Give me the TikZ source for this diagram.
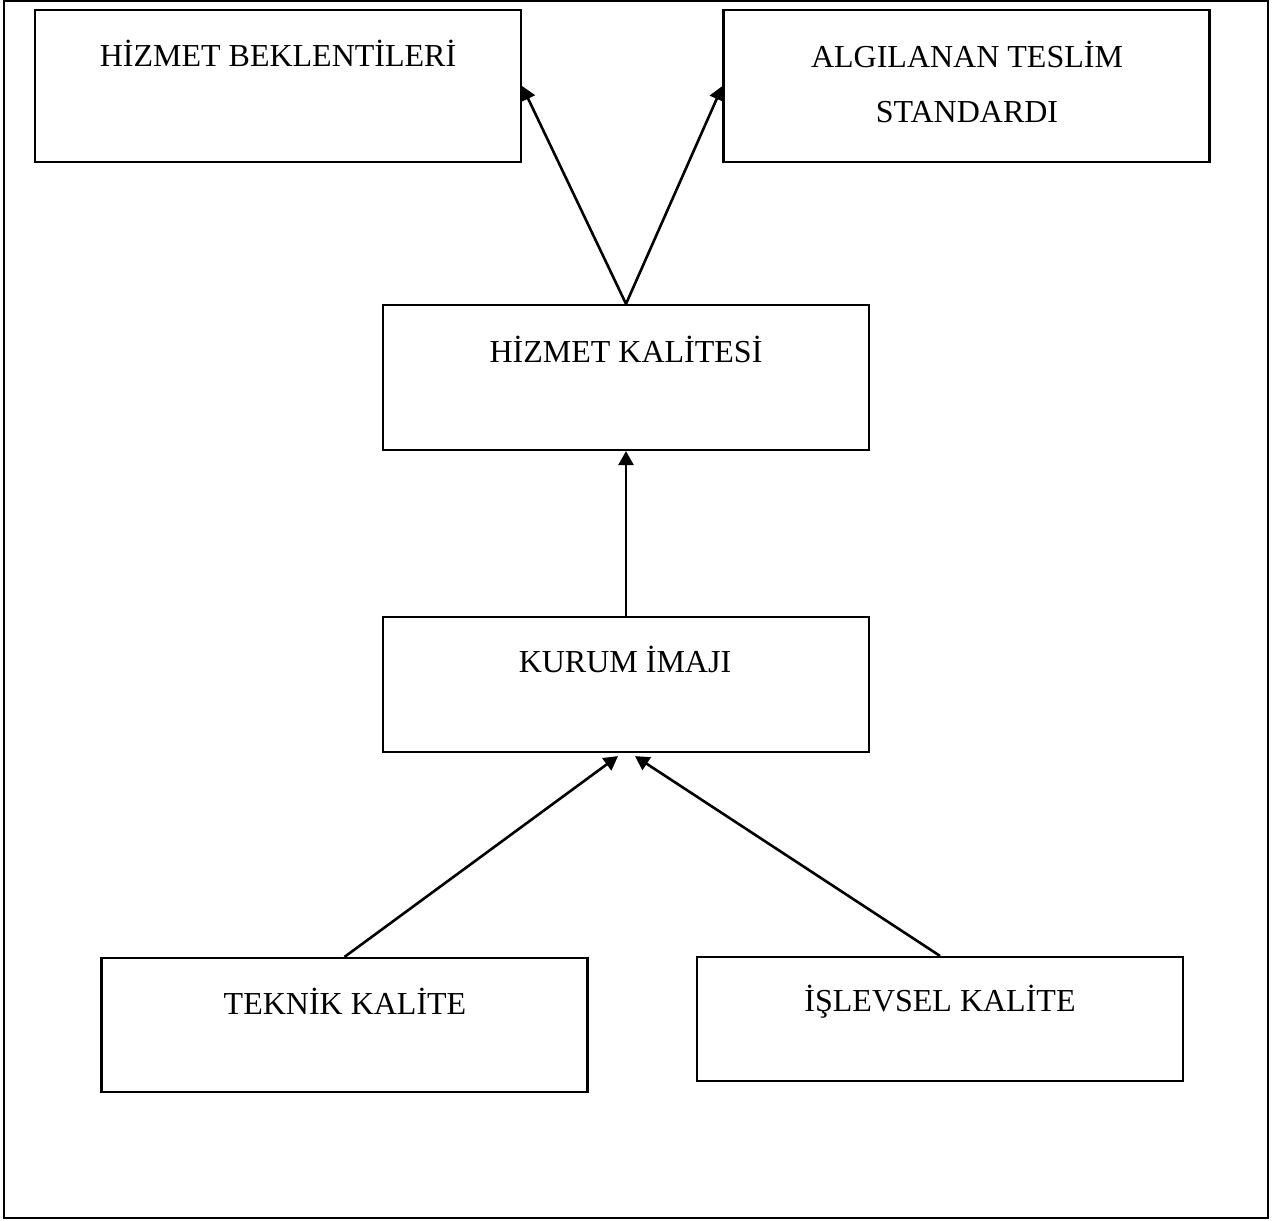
\documentclass[tikz,border=0pt]{standalone}
\usepackage{fontspec}
\setmainfont{Liberation Serif}
\usetikzlibrary{arrows.meta,calc}

\begin{document}
\begin{tikzpicture}[x=0.5pt,y=-0.5pt,
  box/.style={draw=black,line width=1.1pt,inner sep=0pt,minimum width=243pt},
  lbl/.style={anchor=base,inner sep=0pt,align=center,
    font=\fontsize{16pt}{27.5pt}\selectfont},
  link/.style={draw=black,line width=1.3pt,-{Triangle[length=7pt,width=7.5pt]}}]

  % page frame and extent
  \useasboundingbox (0,0) rectangle (1278,1220);
  \draw[line width=1.3pt] (4,1) rectangle (1268,1218);

  % boxes
  \node[box,minimum height=76pt]   (b1) at (278,86) {};
  \node[box,minimum height=76pt]   (b2) at (966.5,86) {};
  \node[box,minimum height=72.5pt] (b3) at (626,377.5) {};
  \node[box,minimum height=67.5pt] (b4) at (626,684.5) {};
  \node[box,minimum height=67pt]   (b5) at (344.5,1025) {};
  \node[box,minimum height=62pt]   (b6) at (940,1019) {};

  % box captions (base anchor = baseline of the last line)
  \node[lbl] (t1) at (278,67)   {HİZMET BEKLENTİLERİ};
  \node[lbl] (t2) at (967,122)  {ALGILANAN TESLİM\\STANDARDI};
  \node[lbl] (t3) at (626,362)  {HİZMET KALİTESİ};
  \node[lbl] (t4) at (625,672)  {KURUM İMAJI};
  \node[lbl] (t5) at (345,1014) {TEKNİK KALİTE};
  \node[lbl] (t6) at (940,1011) {İŞLEVSEL KALİTE};

  % arrow end points just below the image box
  \coordinate (k1) at ($(b4.south)+(-8,3)$);
  \coordinate (k2) at ($(b4.south)+(9,3)$);

  % connectors
  \draw[link] (b3.north) -- (b1.east);
  \draw[link] (b3.north) -- (b2.west);
  \draw[link] (b4.north) -- (b3.south);
  \draw[link] (b5.north) -- (k1);
  \draw[link] (b6.north) -- (k2);
\end{tikzpicture}
\end{document}
